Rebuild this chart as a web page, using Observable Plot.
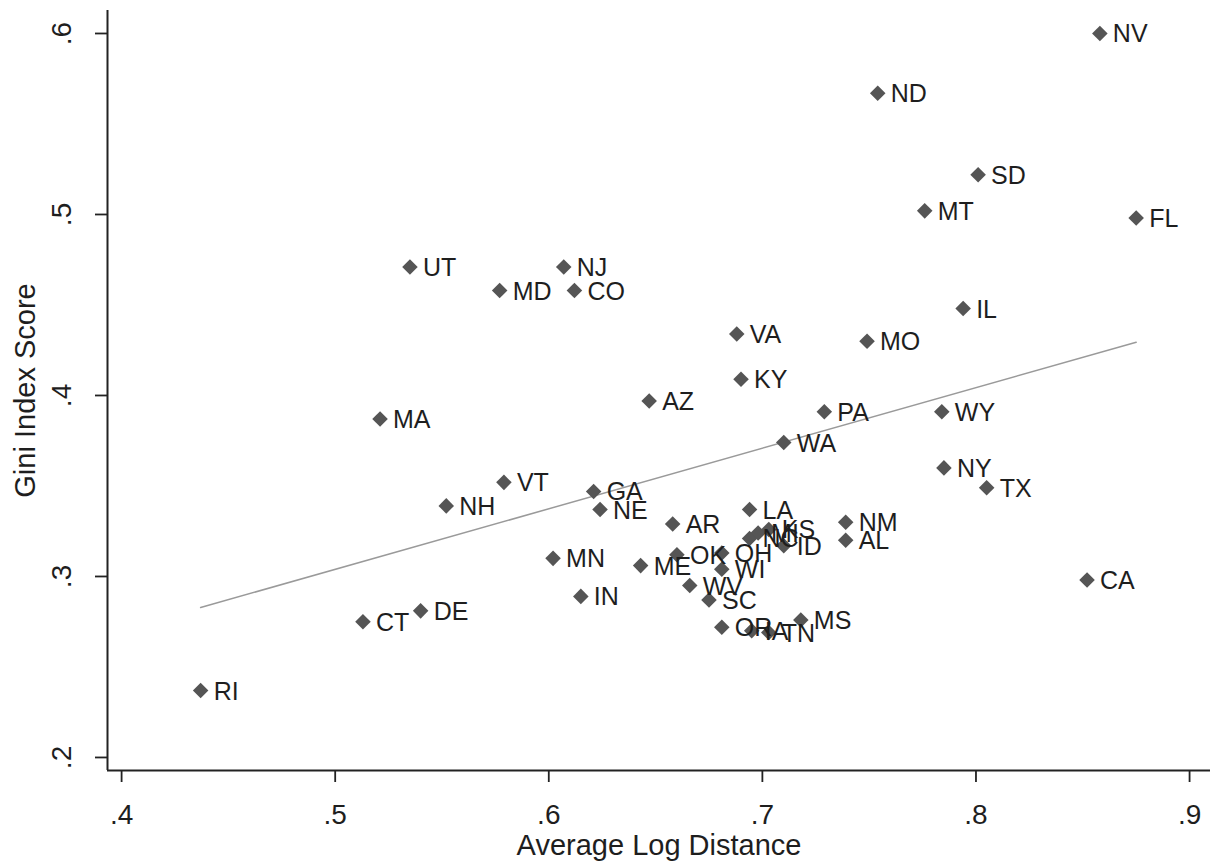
<!DOCTYPE html>
<html>
<head>
<meta charset="utf-8">
<script src="https://cdn.jsdelivr.net/npm/d3@7"></script>
<script src="https://cdn.jsdelivr.net/npm/@observablehq/plot@0.6"></script>
<style>
  html, body { margin: 0; padding: 0; background: #fff; }
  svg { display: block; font-family: Arial, "Liberation Sans", sans-serif; }
</style>
</head>
<body>
<div id="chart"></div>
<script>
const states = ["NV","ND","SD","MT","FL","UT","NJ","MD","CO","IL","VA","MO","KY","AZ","MA","PA","WY","WA","NY","TX","VT","NH","GA","NE","AR","LA","NM","AL","CA","MN","ME","IN","CT","DE","RI","KS","MI","NC","ID","OK","OH","WI","WV","SC","OR","IA","TN","MS"];
const logDistance = [0.858,0.754,0.801,0.776,0.875,0.535,0.607,0.577,0.612,0.794,0.688,0.749,0.690,0.647,0.521,0.729,0.784,0.710,0.785,0.805,0.579,0.552,0.621,0.624,0.658,0.694,0.739,0.739,0.852,0.602,0.643,0.615,0.513,0.540,0.437,0.703,0.698,0.694,0.710,0.660,0.681,0.681,0.666,0.675,0.681,0.695,0.703,0.718];
const giniScore = [0.600,0.567,0.522,0.502,0.498,0.471,0.471,0.458,0.458,0.448,0.434,0.430,0.409,0.397,0.387,0.391,0.391,0.374,0.360,0.349,0.352,0.339,0.347,0.337,0.329,0.337,0.330,0.320,0.298,0.310,0.306,0.289,0.275,0.281,0.237,0.326,0.324,0.321,0.317,0.312,0.313,0.304,0.295,0.287,0.272,0.270,0.269,0.276];
const xTicks = [0.4,0.5,0.6,0.7,0.8,0.9];
const yTicks = [0.2,0.3,0.4,0.5,0.6];
const xTitle = "Average Log Distance";
const yTitle = "Gini Index Score";

const data = states.map((s, i) => ({state: s, x: logDistance[i], y: giniScore[i]}));
const fmt = d => d.toFixed(1).replace(/^0/, "");
const xDomain = [0.3934, 0.9098];
const yDomain = [0.1928, 0.6127];
const ink = "#1e1e1e";

const chart = Plot.plot({
  width: 1212,
  height: 867,
  marginLeft: 107,
  marginRight: 2,
  marginTop: 10,
  marginBottom: 97,
  style: {fontFamily: "Arial, 'Liberation Sans', sans-serif", background: "#fff"},
  x: {domain: xDomain, axis: null},
  y: {domain: yDomain, axis: null},
  marks: [
    Plot.linearRegressionY(data, {x: "x", y: "y", ci: 0, stroke: "#9a9a9a", strokeWidth: 1.5}),
    Plot.dot(data, {x: "x", y: "y", symbol: d3.symbolDiamond2, r: 7, fill: "#555555", stroke: "none"}),
    Plot.text(data, {x: "x", y: "y", text: "state", textAnchor: "start", dx: 13, dy: 1, fontSize: 25, fill: ink}),
    // axis lines
    Plot.ruleX([xDomain[0]], {stroke: "#222", strokeWidth: 2}),
    Plot.ruleY([yDomain[0]], {stroke: "#222", strokeWidth: 2}),
    // ticks
    Plot.axisX(xTicks, {tickSize: 12, tickFormat: () => "", label: null, stroke: "#222", strokeWidth: 1.8}),
    Plot.axisY(yTicks, {tickSize: 12, tickFormat: () => "", label: null, stroke: "#222", strokeWidth: 1.8}),
    // tick labels
    Plot.text(xTicks, {x: d => d, frameAnchor: "bottom", dy: 45, text: fmt, fontSize: 28, fill: ink, lineAnchor: "middle"}),
    Plot.text(yTicks, {y: d => d, frameAnchor: "left", dx: -45, text: fmt, fontSize: 28, fill: ink, rotate: -90, textAnchor: "middle", lineAnchor: "middle"}),
    // titles
    Plot.text([xTitle], {frameAnchor: "bottom", dy: 75, text: d => d, fontSize: 29, fill: ink, lineAnchor: "middle"}),
    Plot.text([yTitle], {frameAnchor: "left", dx: -82, text: d => d, fontSize: 29, fill: ink, rotate: -90, textAnchor: "middle", lineAnchor: "middle"})
  ]
});
document.getElementById("chart").appendChild(chart);
</script>
</body>
</html>
